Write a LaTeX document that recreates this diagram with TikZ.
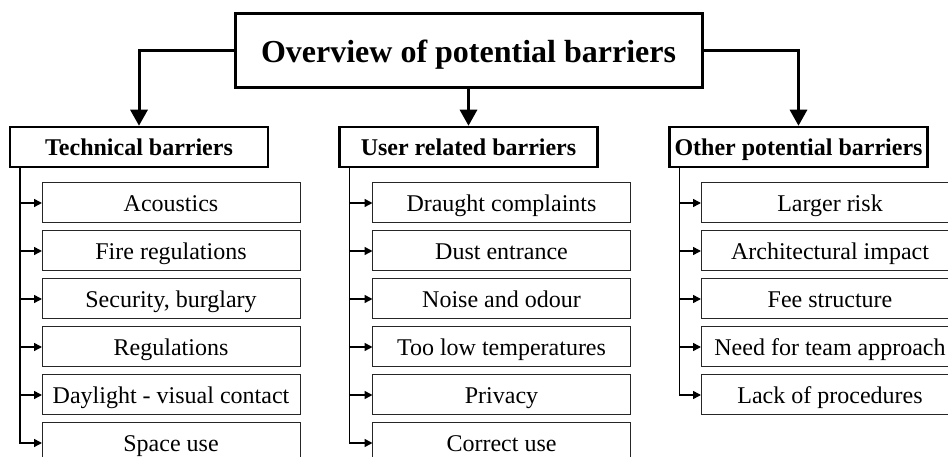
\documentclass[tikz,border=0pt]{standalone}
\usepackage{fontspec}
\setmainfont{Liberation Serif}
\usetikzlibrary{positioning,arrows.meta}

\begin{document}
\begin{tikzpicture}[x=1pt,y=1pt,node distance=8pt,
 title/.style={draw,line width=3pt,minimum width=467pt,minimum height=74pt,text height=26pt,text depth=2pt,font=\fontsize{32}{38}\selectfont\bfseries},
 group/.style={draw,line width=2.5pt,minimum width=258pt,minimum height=40pt,inner sep=2pt,text height=20pt,text depth=2pt,font=\fontsize{24}{28}\selectfont\bfseries},
 item/.style={draw=black!85,line width=1pt,minimum width=258pt,minimum height=40pt,inner sep=2pt,outer sep=0pt,text height=20pt,text depth=2pt,font=\fontsize{24}{28}\selectfont},
 main/.style={line width=3pt,-{Triangle[width=17pt,length=16pt]}},
 branch/.style={line width=1.5pt,-{Triangle[width=8pt,length=8pt]}}]
\useasboundingbox (0,0) rectangle (948,457);
\clip (0,0) rectangle (948,457);
\node[title] (overview) at (468.5,406) {Overview of potential barriers};
\node[group] (tech) at (139,310) {Technical barriers};
\node[group] (user) at (468.5,310) {User related barriers};
\node[group] (other) at (798.5,310) {Other potential barriers};
\draw[main] (overview.west) -| (tech.north);
\draw[main] (overview.south) -- (user.north);
\draw[main] (overview.east) -| (other.north);

\node[item] (t1) at (171,254) {Acoustics};
\node[item,below=of t1] (t2) {Fire regulations};
\node[item,below=of t2] (t3) {Security, burglary};
\node[item,below=of t3] (t4) {Regulations};
\node[item,below=of t4] (t5) {Daylight - visual contact};
\node[item,below=of t5] (t6) {Space use};

\node[item] (u1) at (501.5,254) {Draught complaints};
\node[item,below=of u1] (u2) {Dust entrance};
\node[item,below=of u2] (u3) {Noise and odour};
\node[item,below=of u3] (u4) {Too low temperatures};
\node[item,below=of u4] (u5) {Privacy};
\node[item,below=of u5] (u6) {Correct use};

\node[item] (o1) at (830,254) {Larger risk};
\node[item,below=of o1] (o2) {Architectural impact};
\node[item,below=of o2] (o3) {Fee structure};
\node[item,below=of o3] (o4) {Need for team approach};
\node[item,below=of o4] (o5) {Lack of procedures};

\draw[branch] ([xshift=11pt]tech.south west) |- (t1.west);
\draw[branch] ([xshift=11pt]tech.south west) |- (t2.west);
\draw[branch] ([xshift=11pt]tech.south west) |- (t3.west);
\draw[branch] ([xshift=11pt]tech.south west) |- (t4.west);
\draw[branch] ([xshift=11pt]tech.south west) |- (t5.west);
\draw[branch] ([xshift=11pt]tech.south west) |- (t6.west);

\draw[branch] ([xshift=11pt]user.south west) |- (u1.west);
\draw[branch] ([xshift=11pt]user.south west) |- (u2.west);
\draw[branch] ([xshift=11pt]user.south west) |- (u3.west);
\draw[branch] ([xshift=11pt]user.south west) |- (u4.west);
\draw[branch] ([xshift=11pt]user.south west) |- (u5.west);
\draw[branch] ([xshift=11pt]user.south west) |- (u6.west);

\draw[branch] ([xshift=11pt]other.south west) |- (o1.west);
\draw[branch] ([xshift=11pt]other.south west) |- (o2.west);
\draw[branch] ([xshift=11pt]other.south west) |- (o3.west);
\draw[branch] ([xshift=11pt]other.south west) |- (o4.west);
\draw[branch] ([xshift=11pt]other.south west) |- (o5.west);
\end{tikzpicture}
\end{document}
